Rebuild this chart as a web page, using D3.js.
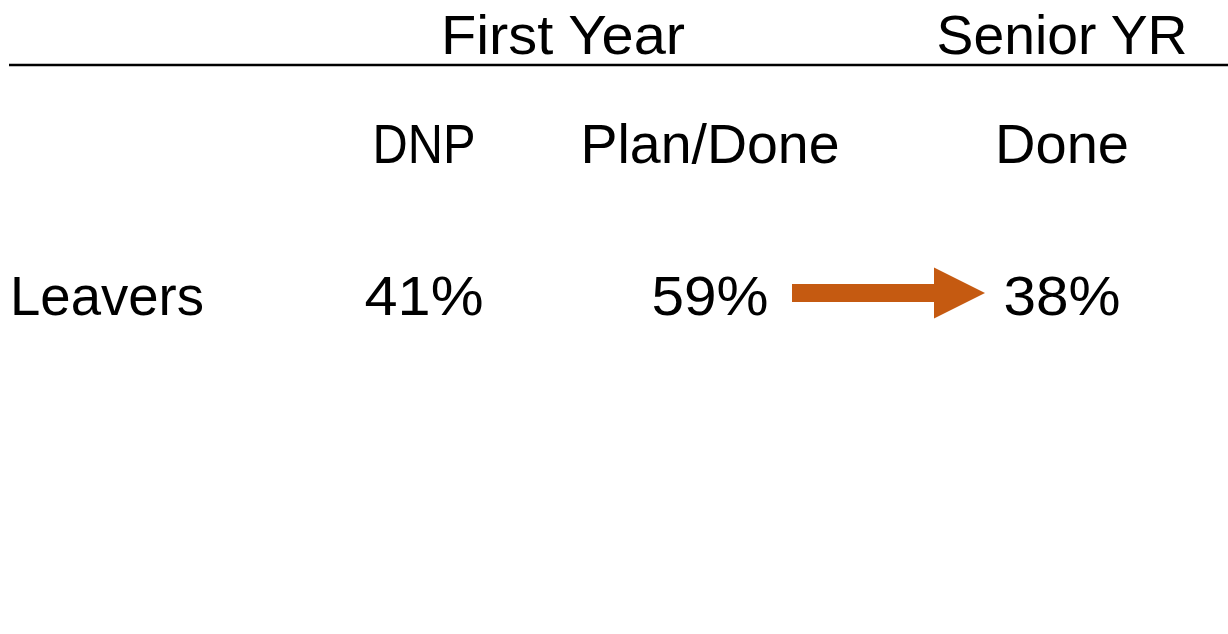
<!DOCTYPE html>
<html>
<head>
<meta charset="utf-8">
<script src="https://cdn.jsdelivr.net/npm/d3@7"></script>
<style>
html,body{margin:0;padding:0;background:#fff;}
svg{display:block;}
text{font-family:"Liberation Sans",Arial,sans-serif;fill:#000;}
</style>
</head>
<body>
<svg id="chart" width="1228" height="634"></svg>
<script>
// ---- data ----
const groups = ["First Year", "Senior YR"];
const columns = ["DNP", "Plan/Done", "Done"];
const columnGroup = ["First Year", "First Year", "Senior YR"];
const rowLabels = ["Leavers"];
const values = [41, 59, 38]; // percent, per column
const arrowFrom = "Plan/Done";
const arrowTo = "Done";

// ---- layout ----
const svg = d3.select("#chart");
const W = 1228, H = 634;
const fontSize = 56;

const x = d3.scaleOrdinal().domain(columns).range([424, 710, 1062]);
const y = d3.scaleOrdinal().domain(["group", "column"].concat(rowLabels)).range([54, 163, 315]);

// widths of each text (to mimic the condensed face)
const widthOf = {
  "First Year": 244, "Senior YR": 251, "DNP": 103, "Plan/Done": 259, "Done": 134,
  "Leavers": 194, "41%": 119, "59%": 117, "38%": 117
};

function put(sel, txt, cx, cy, anchor) {
  const t = sel.append("text")
    .attr("x", cx).attr("y", cy)
    .attr("font-size", fontSize)
    .attr("text-anchor", anchor || "middle")
    .text(txt);
  if (widthOf[txt]) t.attr("textLength", widthOf[txt]).attr("lengthAdjust", "spacingAndGlyphs");
  return t;
}

// group headers centred over their columns
groups.forEach(g => {
  const xs = columns.filter((c, i) => columnGroup[i] === g).map(c => x(c));
  let cx = d3.mean(xs);
  if (g === "First Year") cx = 563;
  put(svg, g, cx, y("group"));
});

// header rule
svg.append("line")
  .attr("x1", 9).attr("x2", W)
  .attr("y1", 65).attr("y2", 65)
  .attr("stroke", "#000").attr("stroke-width", 2.5);

// column headers
columns.forEach(c => put(svg, c, x(c), y("column")));

// row label
rowLabels.forEach(r => put(svg, r, 10, y(r), "start"));

// values
const fmt = v => d3.format("d")(v) + "%";
columns.forEach((c, i) => put(svg, fmt(values[i]), x(c), y(rowLabels[0])));

// arrow
const ay = y(rowLabels[0]) - 22;
const ax0 = x(arrowFrom) + 82;
const ax1 = x(arrowTo) - 77;
const shaftHalf = 9, headHalf = 25.5, headLen = 51;
const arrowPts = [
  [ax0, ay - shaftHalf], [ax1 - headLen, ay - shaftHalf], [ax1 - headLen, ay - headHalf],
  [ax1, ay], [ax1 - headLen, ay + headHalf], [ax1 - headLen, ay + shaftHalf], [ax0, ay + shaftHalf]
];
svg.append("path")
  .attr("d", d3.line()(arrowPts) + "Z")
  .attr("fill", "#C55A11");
</script>
</body>
</html>
